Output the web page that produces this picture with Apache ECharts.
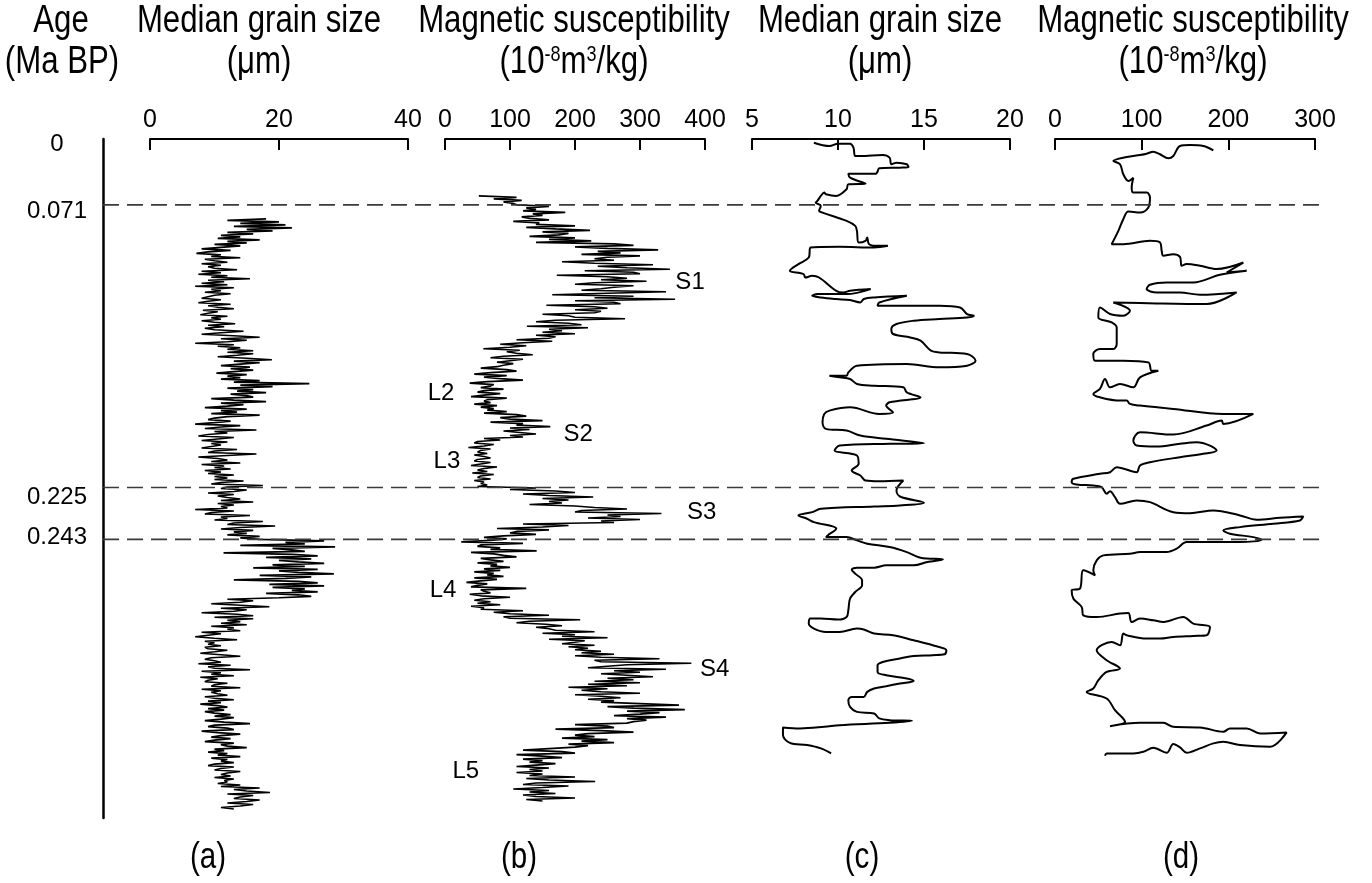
<!DOCTYPE html>
<html><head><meta charset="utf-8">
<script src="https://cdn.jsdelivr.net/npm/echarts@6/dist/echarts.min.js"></script>
<style>html,body{margin:0;padding:0;background:#fff}#c{width:1372px;height:883px}</style>
</head><body><div id="c"></div>
<script>
// ---------------- DATA ----------------
// vertical scale: depth units along the core (0 = top of the section)
const DEPTH_MAX = 680;
const ageLabels = ['0', '0.071', '0.225', '0.243'];
const ageDepths = [0, 66, 349, 401];
const boundaryDepths = [66, 349, 401];

const aTicks = [0, 20, 40];
const bTicks = [0, 100, 200, 300, 400];
const cTicks = [5, 10, 15, 20];
const dTicks = [0, 100, 200, 300];

const panelTitles = ['Median grain size', 'Magnetic susceptibility', 'Median grain size', 'Magnetic susceptibility'];
const panelUnits = ['(\u03bcm)', '(10{sup|-8}m{sup|3}/kg)', '(\u03bcm)', '(10{sup|-8}m{sup|3}/kg)'];
const panelLetters = ['(a)', '(b)', '(c)', '(d)'];

// (a) median grain size (um), high-resolution record, regular sampling
const grainADepthStart = 80, grainADepthStep = 1.5;
const grainA = [
 18,12,20,14,21,13,22,15,19,12,
 16,11,14,10.5,17,12,15,10,14,11,
 8,12.5,9,7.2,11,9.5,14,8.5,10,12,8,11,9,
 10,13.5,8,11,7.5,12,9.5,15.5,9,11.5,8,12,7,13,9.5,11,8.5,12.5,10,9,
 8,11,9,7.5,12.5,9,10.5,13,8.2,10.5,9,7.8,12,9.5,11,8,10,13.2,9,11.5,8.5,
 10,14.5,11,8,13,17,11,15,12,7,13,10.5,14,12,16,
 12,16,13.5,10.5,15,18.9,13,17,14,11,15.5,12.5,16,13,10.3,15,12,14,
 11,17,13,24.7,14,19,12,16,13.5,18,12.5,15,
 16,9.5,13,18,11,14.5,12,8.5,15,11,13.5,9.5,17,12,10,
 9,12.5,10,7,14,11,8.5,16.5,10,12,9,7.5,13,10.5,8,12,9.5,11,
 11,8,13.5,10,9,16.5,12,7.5,10.5,12,9.5,14,8,11.5,10,12.5,8.5,11,9,13,10,12,
 10,14.5,11,9.5,17.5,12,11,15,13,9,13,10.5,12,14,11,16,10.5,13,11,12,
 7,13,9.5,8.5,15.5,11,12,
 10,17.5,13,12,19.4,14,11,16,13,15,12,17,14,
 17,27,21,24,14,28.7,19,22,24,11.4,22,26,18,25,20,23,27,19,24,
 16,26,20,23,28.5,17,25,21,13,23,26,18.5,27,19,24,22,26,18,23,25,20,
 12,16,14,9.5,14,18.5,11,15,13,8,13.5,16,10,16,12,14,11,15,9.5,13,12,14,
 8,11,9,7,10,13.5,8.5,10,9,11,8.5,
 9,12,10,7.8,11,14,9.5,8.5,10,11,7.5,12.5,9,10,15.5,8,11,9.5,13,7.8,10.5,9,8.5,12,10,9.5,14,8,11,9.5,10.5,12,8.5,10,13,9,11,7.8,10.5,12,9,11.5,8.5,10,12.5,
 10,13,11,8.5,11.5,15.5,10,9,12,13,8,10.5,14,11,9.5,12.5,10,8.5,13,11,12,15,10,11.5,9,12,10.5,14,9.5,12,11,13,10,
 9,13,11,10,14,12,11,12.5,10,13,11.5,12,10.5,
 14,11,17,13,15,18.6,12,16,14,13,17,15,12,16,14,11,13
];

// (b) magnetic susceptibility (10^-8 m3/kg), high-resolution record
const suscBDepthStart = 57, suscBDepthStep = 1.5;
const suscB = [
 52,110,75,118,90,105,
 112,160,125,140,120,185,135,150,118,130,160,105,145,
 140,200,125,170,223,150,190,175,130,200,160,
 225,140,260,290,200,250,328,235,270,210,300,250,230,
 260,180,230,320,235,280,346,215,290,300,172,250,280,240,310,230,200,290,260,240,
 210,340,250,165,290,230,354,200,260,270,156,230,250,200,240,
 230,150,190,200,277,170,140,190,210,126,220,160,180,150,200,140,170,160,
 110,165,120,85,125,100,59,115,95,110,135,90,70,120,100,80,105,90,
 80,55,95,110,70,45,95,60,85,120,65,38,75,70,55,90,60,
 50,85,60,40,95,65,60,70,45,80,55,75,65,
 95,60,110,125,85,100,150,70,120,110,162,100,130,90,115,140,100,120,
 60,85,50,45,75,60,36,70,55,50,65,45,60,70,50,
 45,70,55,40,80,60,50,65,42,75,55,50,70,45,60,55,65,50,
 140,100,170,200,120,160,228,150,190,160,180,130,200,
 230,280,210,200,333,250,270,220,300,240,260,
 120,190,150,80,160,110,100,140,90,
 60,95,70,25,120,55,50,85,70,141,40,75,90,110,55,70,90,50,80,70,100,60,85,45,75,65,90,
 45,80,55,33,65,50,40,125,55,60,70,38,55,100,60,45,70,50,85,40,60,55,
 120,75,100,160,90,100,208,130,110,155,180,140,160,
 170,230,150,200,180,250,160,215,200,180,230,190,220,200,240,210,
 260,200,240,330,230,240,379,280,250,220,340,260,300,240,280,320,250,290,230,300,
 220,280,190,250,210,240,300,200,240,270,220,260,240,
 300,360,250,290,369,280,330,300,260,340,280,310,290,
 280,200,250,260,170,240,290,220,200,230,180,250,210,260,190,220,200,
 160,120,180,200,110,150,180,120,150,130,170,140,110,160,130,150,
 110,150,130,200,125,160,231,140,120,190,150,105,160,130,170,120,140,200,125,150
];

// (c) median grain size (um), smoothed record: [value, depth]
const grainC = [
 [8.6,3.7],[9.5,7],[10.0,4.7],[10.7,4.7],[10.9,8.7],[11.0,17],[11.3,17],[12.6,16],[13.0,18.7],[13.1,25.3],[13.4,23.7],[14.0,25.3],[14.1,28],[13.6,28.7],[12.4,29.3],[12.3,32.7],[12.2,34.7],[10.6,34.7],[10.7,38.7],[11.6,44.7],[10.6,45.3],[10.5,50.3],[9.9,57],[9.3,55.3],[9.2,53.7],[9.0,57],[8.8,62],[8.7,63.7],[9.0,67],[8.9,72],[9.1,73.7],[10.5,82],[11.0,87],[11.1,92],[11.2,103.7],[11.6,102],[11.7,98.7],[11.8,105.3],[12.2,107],[12.9,107],[12.1,108.7],[10.1,108],[8.4,108.7],[8.3,118.7],[7.7,125.3],[7.2,132],[8.0,135.3],[8.1,138.7],[8.5,137],[8.9,138.7],[9.9,152],[10.3,153.7],[10.7,152],[11.9,150.3],[10.5,155.3],[8.8,155.3],[8.5,157],[9.0,158.7],[9.9,160.3],[10.7,161.3],[11.3,163.7],[11.5,160.3],[12.1,158.7],[14.0,157],[12.4,163.7],[12.3,167],[13.4,167],[15.9,167],[17.1,168.7],[17.5,175.3],[17.9,177],[17.5,178.7],[15.9,180.3],[14.4,182],[13.4,185.3],[13.1,190.3],[13.2,195.3],[14.2,198.7],[14.8,202],[15.4,212],[15.9,213.7],[17.5,215.3],[18.0,222],[17.5,227],[15.9,228.7],[14.0,225.3],[11.1,227],[10.6,233.7],[10.5,237],[9.5,237],[10.1,238.7],[10.7,240.3],[11.1,245.3],[12.1,247],[13.8,248.7],[14.0,253.7],[14.8,258.7],[13.0,263.7],[12.8,267],[13.2,273.7],[12.4,275.3],[10.7,268.7],[9.5,272],[9.2,275.3],[9.1,283.7],[9.3,290.3],[10.5,292],[11.3,297],[12.8,300.3],[15.0,304.7],[13.0,305.3],[10.1,307],[9.8,312],[11.1,317],[11.2,325.3],[10.8,332],[11.3,337],[11.6,342],[12.4,342.7],[13.8,342],[13.4,352],[13.6,358],[15.0,364.3],[13.6,367],[12.1,368],[9.0,370.3],[8.5,373.7],[7.7,377],[8.2,380.3],[8.6,383.7],[9.9,390.3],[9.4,397],[9.3,398.7],[10.5,398.7],[11.1,402],[11.7,405.3],[13.0,408.7],[14.0,413.7],[14.8,419.3],[16.1,421],[15.2,423.7],[14.4,427],[12.8,427],[12.1,429.3],[11.1,429.3],[10.8,431.3],[11.0,435.3],[11.4,442],[11.4,447],[11.0,453.7],[10.7,460.3],[10.6,472],[10.5,478.7],[10.0,481.3],[9.0,480.3],[8.4,480.3],[8.3,485.3],[8.6,490.3],[9.3,493.7],[10.1,493.7],[11.1,490.3],[11.5,491.3],[12.1,495.3],[13.2,497],[14.4,502],[15.5,507],[16.3,512],[16.2,516],[15.5,517],[14.4,517.7],[13.6,520.3],[12.6,523.7],[12.3,527],[12.3,533.7],[12.8,537],[14.0,540.3],[14.4,542.7],[13.6,545.3],[12.8,548],[12.1,550.3],[11.7,553.7],[11.5,558.7],[10.8,558.7],[10.6,562],[10.7,568.7],[11.1,573.7],[12.1,575.3],[12.4,580.3],[13.0,582],[14.3,582.7],[13.0,584.7],[10.1,587],[9.2,588.7],[7.8,590.3],[6.8,589.3],[6.8,597],[7.2,604.7],[8.2,607],[9.0,610.3],[9.6,615.3]
];

// (d) magnetic susceptibility (10^-8 m3/kg), smoothed record: [value, depth]
const suscD = [
 [182.7,11.3],[171.2,7],[155.8,6],[144.2,7],[136.5,17],[130.8,19.3],[121.2,15.3],[113.5,12.7],[105.8,14.7],[98.1,16],[82.7,18],[67.3,22],[75,25.3],[78.8,35.3],[84.6,42],[90.4,38.7],[88.5,48.7],[90.4,53.7],[105.8,53.7],[109.6,58.7],[107.7,68.7],[98.1,73.7],[84.6,72.7],[78.8,80.3],[73.1,92],[65.4,105.3],[78.8,105.3],[109.6,102],[121.2,103.7],[123.1,112],[125,117],[136.5,115.3],[144.2,118],[146.2,127],[151.9,125.3],[167.3,127],[186.5,130.3],[217.3,123.7],[198.1,133.7],[221.2,132],[190.4,136],[159.6,143.7],[128.8,143.7],[109.6,146],[105.8,150.3],[117.3,153.7],[144.2,153.7],[167.3,156],[209.6,153.7],[175,165.3],[117.3,164.7],[67.3,163.7],[86.5,172],[78.8,177],[63.5,175.3],[51.9,168.7],[50,178.7],[65.4,183.7],[71.2,188.7],[71.2,205.3],[67.3,210.3],[51.9,210.3],[44.2,215.3],[46.2,222],[78.8,222],[107.7,223.7],[111.5,232],[119.2,232],[98.1,238.7],[90.4,248.7],[75,245.3],[63.5,248.7],[57.7,240.3],[51.9,250.3],[44.2,255.3],[51.9,258.7],[75,262],[82.7,262],[86.5,265.3],[98.1,267],[136.5,270.3],[194.2,275.3],[228.8,275.3],[194.2,285.3],[192.3,282],[175,287],[136.5,296],[98.1,293.7],[90.4,302],[94.2,307],[117.3,308],[144.2,305.3],[163.5,303.7],[178.8,307],[186.5,312],[171.2,315.3],[144.2,318.7],[109.6,323.7],[98.1,327],[94.2,333.7],[71.2,328.7],[63.5,333.7],[51.9,335.3],[21.2,340.3],[19.2,343.7],[25,346],[44.2,347],[53.8,348.7],[59.6,355.3],[63.5,352.7],[69.2,358.7],[75,365.3],[94.2,362],[109.6,363.7],[136.5,373.7],[155.8,374.7],[182.7,372],[213.5,377],[232.7,381.3],[259.6,379.3],[286.5,378],[282.7,382],[251.9,385.3],[213.5,388.7],[194.2,392],[201.9,395.3],[228.8,398.7],[238.5,401.3],[213.5,403.7],[175,403.7],[151.9,403.7],[140.4,410.3],[128.8,413.7],[98.1,413.7],[86.5,415.3],[55.8,417],[48.1,422],[44.2,432],[46.2,437],[32.7,432],[28.8,450.3],[19.2,452],[21.2,460.3],[30.8,468.7],[32.7,477],[48.1,478.7],[75,475.3],[84.6,474.7],[88.5,483.7],[98.1,480.3],[113.5,482],[125,483.7],[148.1,478.7],[159.6,485.3],[178.8,488.7],[175,497],[159.6,497.7],[136.5,498.7],[121.2,500.3],[105.8,500.3],[82.7,497],[78.8,495.3],[75,507],[65.4,503.7],[48.1,512],[59.6,522],[75,530.3],[59.6,533.7],[50,542],[44.2,550.3],[36.5,553.7],[59.6,560.3],[69.2,572],[80.8,583.7],[63.5,588],[98.1,584.7],[125,584.7],[136.5,588.7],[167.3,589.3],[194.2,593.7],[201.9,590.3],[221.2,590.3],[236.5,595.3],[267.3,594.3],[248.1,608.7],[213.5,607],[194.2,603.7],[182.7,605.3],[167.3,610.3],[151.9,614.7],[144.2,609.3],[136.5,606],[128.8,614.7],[113.5,609.7],[101.9,613.7],[90.4,615.3],[59.6,615.3],[57.7,617.7]
];

// soil (S) / loess (L) unit annotations on panel (b): [value, depth]
const unitNames = ['S1', 'L2', 'S2', 'L3', 'S3', 'L4', 'S4', 'L5'];
const unitAnchors = [[377,144],[-6,255],[205,296],[3,323],[395,374],[-3,452],[415,531],[32,633]];

// ---------------- CHART ----------------
const FONT_R = "'Liberation Sans',Arial,sans-serif";
const NARROW = 0.82; // horizontal squeeze to mimic a condensed face
const chart = echarts.init(document.getElementById('c'), null, {renderer: 'canvas'});

const panels = [
  {left: 150, width: 258, ticks: aTicks, cx: 259},
  {left: 445, width: 260, ticks: bTicks, cx: 574},
  {left: 752, width: 258, ticks: cTicks, cx: 880},
  {left: 1055, width: 260, ticks: dTicks, cx: 1193}
];
const TOP = 139;
const grids = panels.map(p => ({left: p.left, width: p.width, top: TOP, height: 679}));
grids.push({left: 103, width: 1224, top: TOP, height: 679});

const xAxes = panels.map((p, i) => ({
  gridIndex: i, type: 'value', position: 'top',
  min: p.ticks[0], max: p.ticks[p.ticks.length - 1], interval: p.ticks[1] - p.ticks[0],
  axisLine: {show: true, onZero: false, lineStyle: {color: '#000', width: 2}},
  axisTick: {show: true, inside: true, length: 11, lineStyle: {color: '#000', width: 2}},
  axisLabel: {color: '#000', fontSize: 25, fontFamily: FONT_R, margin: 6},
  splitLine: {show: false}
}));
xAxes.push({gridIndex: 4, type: 'value', min: 0, max: 1, show: false});

const yAxes = panels.map((p, i) => ({gridIndex: i, type: 'value', inverse: true, min: 0, max: DEPTH_MAX, show: false}));
const shiftRich = {
  s0: {fontSize: 24, fontFamily: FONT_R, color: '#000', padding: [10, 0, 0, 0]},
  s1: {fontSize: 24, fontFamily: FONT_R, color: '#000', padding: [12, 0, 0, 0]},
  s2: {fontSize: 24, fontFamily: FONT_R, color: '#000', padding: [20, 0, 0, 0]},
  s3: {fontSize: 24, fontFamily: FONT_R, color: '#000', padding: [0, 0, 4, 0]}
};
yAxes.push({
  gridIndex: 4, type: 'value', inverse: true, min: 0, max: DEPTH_MAX, position: 'left', offset: 0,
  axisLine: {show: true, lineStyle: {color: '#000', width: 2.5}},
  axisTick: {show: false}, splitLine: {show: false},
  axisLabel: {
    show: true, customValues: ageDepths, align: 'center', margin: 46,
    fontSize: 24, fontFamily: FONT_R, color: '#000',
    formatter: v => { const i = ageDepths.indexOf(v); return i < 0 ? '' : '{s' + i + '|' + ageLabels[i] + '}'; },
    rich: shiftRich
  }
});

const traceStyle = {color: '#000', width: 1.6};
const series = [
  {type: 'line', xAxisIndex: 0, yAxisIndex: 0, showSymbol: false, symbol: 'none', lineStyle: traceStyle,
   data: grainA.map((v, i) => [v, grainADepthStart + i * grainADepthStep])},
  {type: 'line', xAxisIndex: 1, yAxisIndex: 1, showSymbol: false, symbol: 'none', lineStyle: traceStyle,
   data: suscB.map((v, i) => [v, suscBDepthStart + i * suscBDepthStep])},
  {type: 'line', xAxisIndex: 2, yAxisIndex: 2, showSymbol: false, symbol: 'none', smooth: 0.35,
   lineStyle: {color: '#000', width: 2}, data: grainC},
  {type: 'line', xAxisIndex: 3, yAxisIndex: 3, showSymbol: false, symbol: 'none', smooth: 0.35,
   lineStyle: {color: '#000', width: 2}, data: suscD},
  {type: 'scatter', xAxisIndex: 1, yAxisIndex: 1, symbolSize: 0, clip: false, silent: true,
   itemStyle: {opacity: 1},
   data: unitNames.map((n, i) => ({name: n, value: unitAnchors[i]})),
   label: {show: true, position: 'inside', formatter: '{b}', fontSize: 24, fontFamily: FONT_R, color: '#000', opacity: 1}}
];
boundaryDepths.forEach(d => series.push({
  type: 'line', xAxisIndex: 4, yAxisIndex: 4, showSymbol: false, symbol: 'none', silent: true,
  lineStyle: {color: '#3a3a3a', width: 1.6, type: [16, 8]}, data: [[0, d], [1, d]]
}));

const supRich = {sup: {fontSize: 22, fontFamily: FONT_R, fill: '#000', verticalAlign: 'top', lineHeight: 22}};
const txt = (x, y, text, size, rich) => ({
  type: 'text', x: x, y: y, scaleX: NARROW, scaleY: 1,
  style: {text: text, font: size + 'px ' + FONT_R, fill: '#000', align: 'center', verticalAlign: 'middle', rich: rich}
});
const graphics = [txt(61, 22, 'Age', 38), txt(62, 63, '(Ma BP)', 38)];
panels.forEach((p, i) => {
  graphics.push(txt(p.cx, 22, panelTitles[i], 38));
  graphics.push(txt(p.cx, 63, panelUnits[i], 38, supRich));
});
const letterX = [208, 519, 862, 1181];
panelLetters.forEach((t, i) => graphics.push(txt(letterX[i], 858, t, 36)));

chart.setOption({
  animation: false,
  backgroundColor: '#fff',
  grid: grids, xAxis: xAxes, yAxis: yAxes, series: series, graphic: graphics
});
</script></body></html>
